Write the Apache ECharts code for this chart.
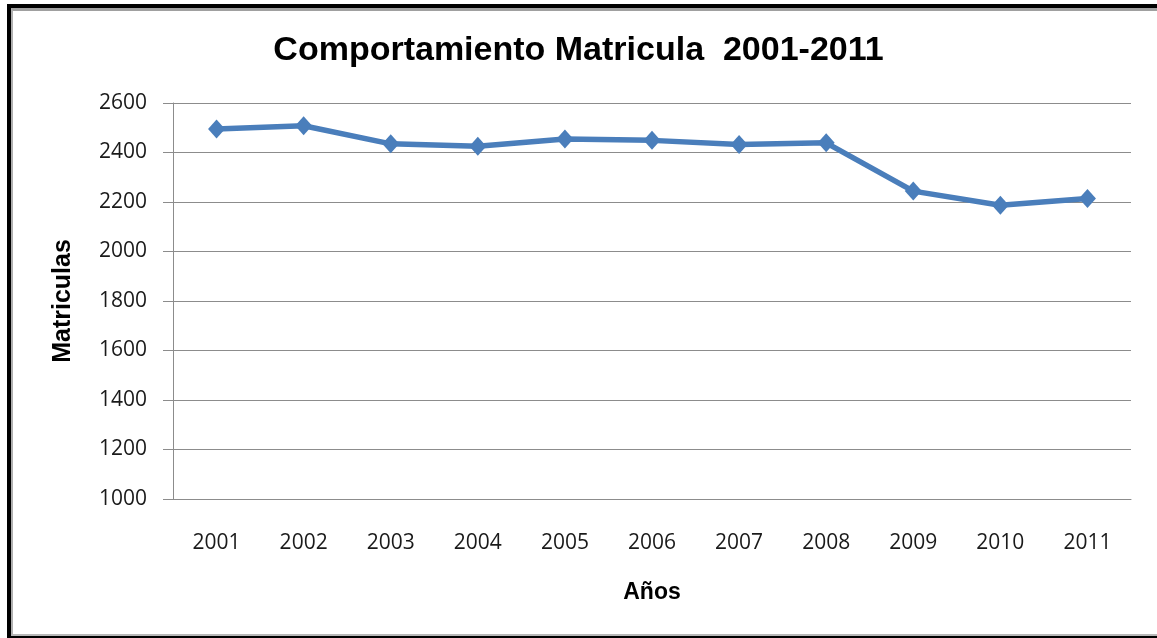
<!DOCTYPE html>
<html>
<head>
<meta charset="utf-8">
<script src="https://cdn.jsdelivr.net/npm/echarts@6/dist/echarts.min.js"></script>
<style>
	html,body{margin:0;padding:0;background:#fff;}
	#frame{position:absolute;left:7px;top:4px;width:1160px;height:628px;border-left:4px solid #000;border-top:4px solid #000;border-bottom:2px solid #000;}
	#inner{position:absolute;left:0;top:0;right:0;bottom:0;border-left:2px solid #b0b0b0;border-top:3px solid #a0a0a0;border-bottom:2px solid #b8b8b8;}
	#chart{position:absolute;left:0;top:0;width:1157px;height:638px;}
</style>
</head>
<body>
<div id="frame"><div id="inner"></div></div>
<div id="chart"></div>
<script>
var years = ['2001','2002','2003','2004','2005','2006','2007','2008','2009','2010','2011'];
var matriculas = [2495, 2508, 2435, 2425, 2455, 2449, 2432, 2439, 2244, 2187, 2214];

var chart = echarts.init(document.getElementById('chart'));
option = {
	animation: false,
	title: {
		text: 'Comportamiento Matricula  2001-2011',
		left: 'center',
		top: 29,
		textStyle: {
			fontFamily: 'Liberation Sans',
			fontWeight: 'bold',
			fontSize: 34,
			color: '#000'
		}
	},
	grid: {
		left: 173,
		right: 26,
		top: 103,
		bottom: 139
	},
	xAxis: {
		type: 'category',
		boundaryGap: true,
		data: years,
		name: 'Años',
		nameLocation: 'middle',
		nameGap: 82,
		nameTextStyle: {
			fontFamily: 'Liberation Sans',
			fontWeight: 'bold',
			fontSize: 23,
			color: '#000'
		},
		axisLine: {lineStyle: {color: '#8c8c8c', width: 1}},
		axisTick: {show: false},
		axisLabel: {
			margin: 34,
			fontFamily: 'Open Sans',
			fontSize: 21,
			color: '#1a1a1a'
		}
	},
	yAxis: {
		type: 'value',
		min: 1000,
		max: 2600,
		interval: 200,
		name: 'Matriculas',
		nameLocation: 'middle',
		nameGap: 97,
		nameRotate: 90,
		nameTextStyle: {
			fontFamily: 'Liberation Sans',
			fontWeight: 'bold',
			fontSize: 25,
			color: '#000'
		},
		axisLine: {show: true, lineStyle: {color: '#8c8c8c', width: 1}},
		axisTick: {show: true, length: 10, inside: false, lineStyle: {color: '#8c8c8c'}},
		splitLine: {lineStyle: {color: '#8c8c8c', width: 1}},
		axisLabel: {
			margin: 26,
			fontFamily: 'Open Sans',
			fontSize: 21,
			color: '#1a1a1a',
			formatter: function (v) { return String(v); }
		}
	},
	series: [{
		name: 'Matriculas',
		type: 'line',
		data: matriculas,
		symbol: 'diamond',
		symbolSize: [17, 19],
		lineStyle: {color: '#4a7ebb', width: 5.5},
		itemStyle: {color: '#4a7ebb'}
	}]
};
chart.setOption(option);
</script>
</body>
</html>
